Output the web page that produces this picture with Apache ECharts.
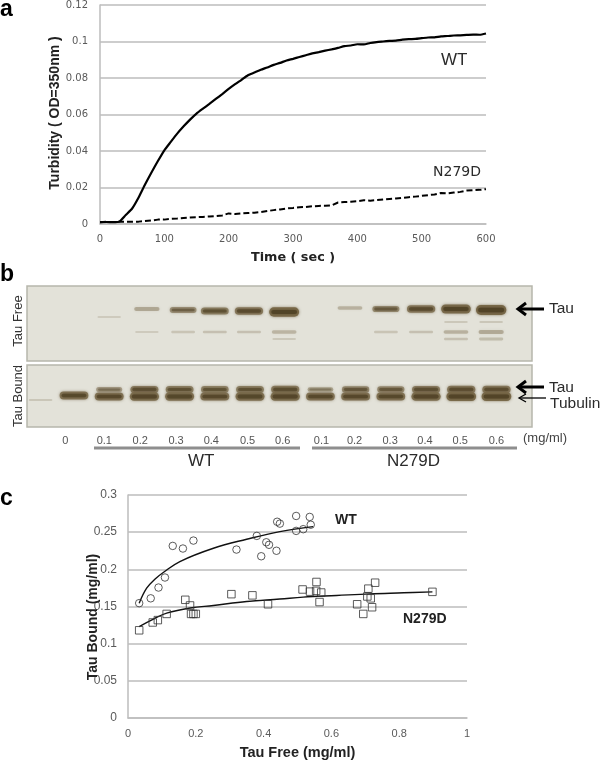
<!DOCTYPE html>
<html><head><meta charset="utf-8">
<style>html,body{margin:0;padding:0;background:#fff}#c{width:600px;height:763px}</style>
<script src="https://cdn.jsdelivr.net/npm/echarts@6/dist/echarts.min.js"></script>
</head><body><div id="c"></div>
<script>
// Panel a: turbidity vs time (every 10 s, 0..600)
const timeSec = Array.from({length:61},(_,i)=>i*10);
const turbidityWT = [.0010,.0011,.0010,.0013,.0049,.0085,.0145,.0216,.0282,.0345,.0404,.0450,.0495,.0535,.0572,.0605,.0632,.0658,.0685,.0712,.0740,.0766,.0790,.0815,.0830,.0845,.0858,.0872,.0883,.0896,.0905,.0915,.0925,.0935,.0942,.0950,.0957,.0965,.0975,.0978,.0985,.0984,.0992,.0997,.1000,.1003,.1005,.1010,.1013,.1014,.1018,.1022,.1023,.1028,.1030,.1033,.1034,.1036,.1038,.1037,.1044];
const turbidityN279D = [.0010,.0012,.0011,.0012,.0012,.0012,.0013,.0016,.0019,.0024,.0024,.0028,.0030,.0033,.0036,.0037,.0039,.0041,.0044,.0047,.0058,.0055,.0058,.0060,.0062,.0066,.0071,.0076,.0080,.0085,.0088,.0092,.0093,.0097,.0099,.0100,.0102,.0118,.0120,.0122,.0125,.0130,.0128,.0131,.0134,.0137,.0140,.0143,.0147,.0150,.0154,.0158,.0162,.0170,.0168,.0172,.0176,.0183,.0185,.0187,.0191];

// Panel b: gel bands [lane, migration, density]
const laneLabels = ['0','0.1','0.2','0.3','0.4','0.5','0.6','0.1','0.2','0.3','0.4','0.5','0.6'];
const laneLabelAt = [-0.25,0.86,1.88,2.9,3.9,4.93,5.93,7.03,7.97,8.98,9.97,10.97,12.0];
const freeBands = [
 [2.07,23,.3],[3.1,24,.5],[4.0,25,.65],[4.97,25,.72],[5.97,26,.95],
 [7.84,22,.22],[8.86,23,.55],[9.86,23,.72],[10.85,23,.9],[11.85,24,1],
 [3.1,46,.07],[4.0,46,.1],[4.97,46,.1],[5.97,46,.2],[5.97,53,.04],
 [8.86,46,.07],[9.86,46,.1],[10.85,46,.22],[11.85,46,.28],[10.85,53,.1],[11.85,53,.14],
 [10.85,36,.04],[11.85,36,.05],[1,31,.02],[2.07,46,.02]
];
const boundBands = [
 [-0.95,35,.05],[0,30.5,.78],
 [1,24.5,.4],[1,31.5,.8],[2,24.5,.68],[2,31.5,.85],[3,24.5,.65],[3,31.5,.82],[4,24.5,.62],[4,31.5,.8],[5,24.5,.65],[5,31.5,.82],[6,24.5,.7],[6,31.5,.85],
 [7,24.5,.35],[7,31.5,.78],[8,24.5,.58],[8,31.5,.8],[9,24.5,.56],[9,31.5,.78],[10,24.5,.68],[10,31.5,.85],[11,24.5,.72],[11,31.5,.92],[12,24.5,.72],[12,31.5,.92]
];

// Panel c: binding data
const wtPoints = [[.033,.1545],[.067,.161],[.09,.1755],[.109,.189],[.132,.2315],[.162,.228],[.193,.2387],[.32,.2266],[.38,.245],[.393,.2176],[.408,.2364],[.416,.233],[.438,.225],[.44,.264],[.448,.2615],[.496,.2718],[.536,.2705],[.539,.26],[.517,.254],[.496,.2517]];
const n279dPoints = [[.033,.118],[.073,.1285],[.088,.1317],[.114,.14],[.169,.159],[.183,.1514],[.186,.14],[.193,.14],[.2,.14],[.305,.1666],[.367,.165],[.413,.153],[.515,.1729],[.537,.17],[.556,.183],[.555,.171],[.57,.1688],[.565,.156],[.676,.153],[.694,.14],[.706,.1635],[.716,.161],[.709,.174],[.729,.182],[.72,.149],[.898,.1697]];
const wtFit = [[.033,.1545],[.055,.1747],[.08,.187],[.104,.1957],[.153,.2105],[.252,.2284],[.35,.2405],[.448,.2508],[.546,.2575]];
const n279dFit = [[.033,.123],[.075,.133],[.114,.141],[.183,.148],[.252,.1514],[.35,.1567],[.448,.16],[.517,.1626],[.615,.1648],[.714,.167],[.813,.1684],[.898,.1697]];

const GRID = '#bdbdbd', TICK = '#5a5a5a', DJ = '"DejaVu Sans"', LS = '"Liberation Sans"';

function renderBand(params, api){
  const p = api.coord([api.value(0), api.value(1)]);
  const d = api.value(2);
  const laneW = api.size([1,0])[0];
  const w = laneW*(0.66+0.2*d), h = 1.8+8*d;
  const a = Math.min(1,0.18+d*0.85);
  const kids = [{type:'rect',shape:{x:p[0]-w/2,y:p[1]-h/2,width:w,height:h,r:h/2},
    style:{fill:'rgba(122,106,74,'+a+')',shadowBlur:3,shadowColor:'rgba(122,108,80,'+Math.min(.8,d)+')'}}];
  if(d>0.3){
    const iw=w*0.86, ih=h*0.45;
    kids.push({type:'rect',shape:{x:p[0]-iw/2,y:p[1]-ih/2,width:iw,height:ih,r:ih/2},
      style:{fill:'rgba(80,66,38,'+Math.min(1,d*.95)+')',shadowBlur:3,shadowColor:'rgba(80,66,38,.8)'}});
  }
  return {type:'group',children:kids};
}
const text=(l,t,s,size,extra)=>({type:'text',left:l,top:t,silent:true,z:20,style:Object.assign({text:s,fontSize:size,fontFamily:LS,fill:'#2b2b2b'},extra||{})});
const line=(x1,y1,x2,y2,w,c)=>({type:'line',silent:true,z:20,shape:{x1,y1,x2,y2},style:{stroke:c||'#000',lineWidth:w}});
const head=(x,y,dx,dy,w)=>({type:'polyline',silent:true,z:20,shape:{points:[[x+dx,y-dy],[x,y],[x+dx,y+dy]]},style:{stroke:'#000',fill:'none',lineWidth:w}});
const vtext=(x,y,s,size,extra)=>({type:'text',x:x,y:y,rotation:Math.PI/2,silent:true,z:20,style:Object.assign({text:s,fontSize:size,fontFamily:LS,fill:'#222',align:'center',verticalAlign:'middle'},extra||{})});

const gelAxisX = (i,extra)=>Object.assign({type:'value',gridIndex:i,min:-1.335,max:13.01,splitLine:{show:false},axisLine:{show:false},axisTick:{show:false},axisLabel:{show:false}},extra||{});
const gelAxisY = (i,max)=>({type:'value',gridIndex:i,min:0,max:max,inverse:true,splitLine:{show:false},axisLine:{show:false},axisTick:{show:false},axisLabel:{show:false}});

const option = {
  animation:false, backgroundColor:'#fff',
  grid:[
    {left:100,top:4,width:386,height:220},
    {left:27,top:286,width:505,height:75,show:true,backgroundColor:'#e3e2d9',borderColor:'#b6b6ac',borderWidth:1.5},
    {left:27,top:365,width:505,height:62,show:true,backgroundColor:'#e3e2d9',borderColor:'#b6b6ac',borderWidth:1.5},
    {left:128,top:495,width:339,height:223}
  ],
  xAxis:[
    {type:'value',gridIndex:0,min:0,max:600,interval:100,splitLine:{show:false},axisTick:{show:false},
     axisLine:{lineStyle:{color:GRID,width:1.5}},axisLabel:{color:TICK,fontFamily:DJ,fontSize:10,margin:10},
     name:'Time ( sec )',nameLocation:'middle',nameGap:27,nameTextStyle:{fontFamily:DJ,fontWeight:'bold',fontSize:12.8,color:'#222'}},
    gelAxisX(1),
    gelAxisX(2,{axisLabel:{show:true,customValues:laneLabelAt,margin:8,color:'#555',fontFamily:LS,fontSize:11,
      formatter:v=>laneLabels[laneLabelAt.indexOf(v)]}}),
    {type:'value',gridIndex:3,min:0,max:1,interval:0.2,splitLine:{show:false},axisTick:{show:false},
     axisLine:{lineStyle:{color:GRID,width:1.5}},axisLabel:{color:TICK,fontFamily:LS,fontSize:11,margin:10},
     name:'Tau Free (mg/ml)',nameLocation:'middle',nameGap:27,nameTextStyle:{fontFamily:LS,fontWeight:'bold',fontSize:14.5,color:'#222'}}
  ],
  yAxis:[
    {type:'value',gridIndex:0,min:0,max:.12,interval:.02,splitLine:{lineStyle:{color:GRID,width:1.5}},axisTick:{show:false},
     axisLine:{show:true,lineStyle:{color:GRID,width:1.5}},axisLabel:{color:TICK,fontFamily:DJ,fontSize:10,margin:12}},
    gelAxisY(1,75),
    gelAxisY(2,62),
    {type:'value',gridIndex:3,min:0,max:.3,interval:.05,splitLine:{lineStyle:{color:GRID,width:1.5}},axisTick:{show:false},
     axisLine:{show:true,lineStyle:{color:GRID,width:1.5}},axisLabel:{color:TICK,fontFamily:LS,fontSize:12,margin:11}}
  ],
  series:[
    {name:'WT',type:'line',xAxisIndex:0,yAxisIndex:0,showSymbol:false,smooth:.2,z:5,lineStyle:{color:'#000',width:2.2},data:timeSec.map((t,i)=>[t,turbidityWT[i]])},
    {name:'N279D',type:'line',xAxisIndex:0,yAxisIndex:0,showSymbol:false,z:5,lineStyle:{color:'#000',width:2,type:[6,3]},data:timeSec.map((t,i)=>[t,turbidityN279D[i]])},
    {name:'Free gel',type:'custom',xAxisIndex:1,yAxisIndex:1,renderItem:renderBand,data:freeBands,clip:true},
    {name:'Bound gel',type:'custom',xAxisIndex:2,yAxisIndex:2,renderItem:renderBand,data:boundBands,clip:true},
    {name:'WT points',type:'scatter',xAxisIndex:3,yAxisIndex:3,symbol:'circle',symbolSize:7.5,z:6,itemStyle:{color:'rgba(255,255,255,0)',borderColor:'#333',borderWidth:1},data:wtPoints},
    {name:'N279D points',type:'scatter',xAxisIndex:3,yAxisIndex:3,symbol:'rect',symbolSize:7.5,z:6,itemStyle:{color:'rgba(255,255,255,0)',borderColor:'#333',borderWidth:1},data:n279dPoints},
    {name:'WT fit',type:'line',xAxisIndex:3,yAxisIndex:3,smooth:.4,showSymbol:false,z:5,lineStyle:{color:'#111',width:1.4},data:wtFit},
    {name:'N279D fit',type:'line',xAxisIndex:3,yAxisIndex:3,smooth:.4,showSymbol:false,z:5,lineStyle:{color:'#111',width:1.4},data:n279dFit}
  ],
  graphic:[
    text(0,-2,'a',23,{fontWeight:'bold',fill:'#000'}),
    text(0,263,'b',23,{fontWeight:'bold',fill:'#000'}),
    text(0,487,'c',23,{fontWeight:'bold',fill:'#000'}),
    vtext(55,113,'Turbidity ( OD=350nm )',14,{fontWeight:'bold'}),
    vtext(18,321,'Tau Free',13,{fill:'#333'}),
    vtext(18,396,'Tau Bound',13,{fill:'#333'}),
    vtext(93,617,'Tau Bound (mg/ml)',14,{fontWeight:'bold'}),
    text(441,52,'WT',17),
    text(433,165,'N279D',14,{fontFamily:DJ}),
    text(549,301,'Tau',15.5),
    text(549,380,'Tau',15.5),
    text(550,396,'Tubulin',15.5),
    text(523,432,'(mg/ml)',13,{fill:'#444'}),
    text(188,453,'WT',17),
    text(387,453,'N279D',17),
    line(94,448,300,448,3,'#8e8e8e'),
    line(312,448,517,448,3,'#8e8e8e'),
    line(520,309,544,309,3), head(518,309,8,6,3),
    line(520,387,544,387,3), head(518,387,8,6,3),
    line(520,398,546,398,1.3), head(519,398,7,4,1.3),
    text(335,513,'WT',14,{fontWeight:'bold',fill:'#222'}),
    text(403,612,'N279D',14,{fontWeight:'bold',fill:'#222'})
  ]
};
const chart = echarts.init(document.getElementById('c'),null,{renderer:'canvas',width:600,height:763});
chart.setOption(option);
</script></body></html>
